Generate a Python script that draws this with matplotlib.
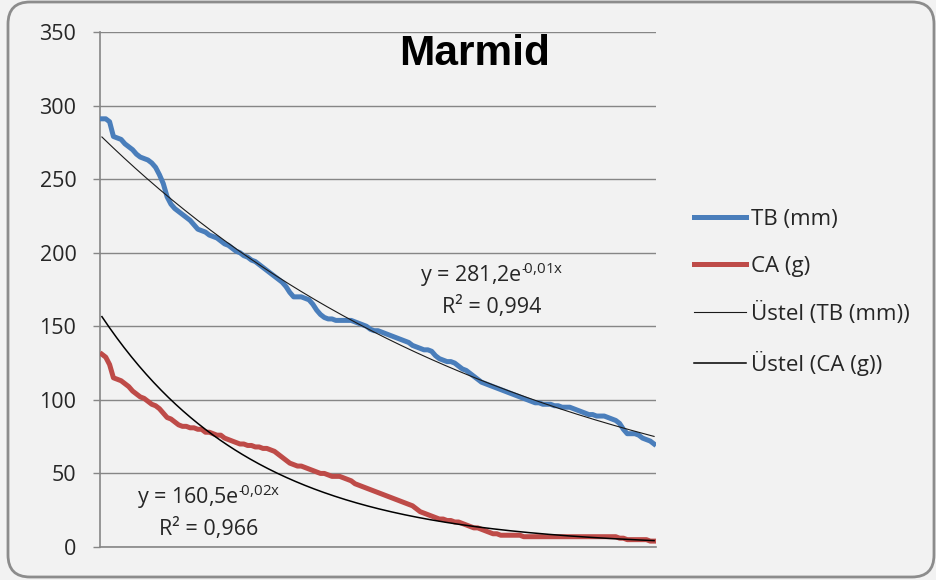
import numpy as np
import matplotlib.pyplot as plt
from matplotlib.patches import FancyBboxPatch

# values (one value per category, 145 categories)
tb_mm = [291, 291, 289, 279, 278, 277, 274, 272, 270, 267,
         265, 264, 263, 261, 258, 253, 247, 238, 233, 230,
         228, 226, 224, 222, 219, 216, 215, 214, 212, 211,
         210, 208, 206, 205, 203, 201, 200, 198, 197, 195,
         194, 192, 190, 188, 186, 184, 182, 180, 177, 173,
         170, 170, 170, 169, 168, 165, 161, 158, 156, 155,
         155, 154, 154, 154, 154, 154, 153, 152, 151, 150,
         148, 147, 147, 146, 145, 144, 143, 142, 141, 140,
         139, 137, 136, 135, 134, 134, 133, 130, 128, 127,
         126, 126, 125, 123, 121, 120, 118, 116, 114, 112,
         111, 110, 109, 108, 107, 106, 105, 104, 103, 102,
         101, 100, 99, 98, 98, 97, 97, 97, 96, 96,
         95, 95, 95, 94, 93, 92, 91, 90, 90, 89,
         89, 89, 88, 87, 86, 84, 80, 77, 77, 77,
         76, 74, 73, 72, 70]

ca_g = [131, 129, 124, 115, 114, 113, 111, 109, 106, 104,
        102, 101, 99, 97, 96, 94, 91, 88, 87, 85,
        83, 82, 82, 81, 81, 80, 80, 78, 78, 77,
        76, 76, 74, 73, 72, 71, 70, 70, 69, 69,
        68, 68, 67, 67, 66, 65, 63, 61, 59, 57,
        56, 55, 55, 54, 53, 52, 51, 50, 50, 49,
        48, 48, 48, 47, 46, 45, 43, 42, 41, 40,
        39, 38, 37, 36, 35, 34, 33, 32, 31, 30,
        29, 28, 26, 24, 23, 22, 21, 20, 19, 19,
        18, 18, 17, 17, 16, 15, 14, 13, 13, 12,
        11, 10, 9, 9, 8, 8, 8, 8, 8, 8,
        7, 7, 7, 7, 7, 7, 7, 7, 7, 7,
        7, 7, 7, 7, 7, 7, 7, 7, 7, 7,
        7, 7, 7, 7, 7, 6, 6, 5, 5, 5,
        5, 5, 5, 4, 4]

# exponential trendlines y = a * exp(-k x)
tb_a, tb_k = 281.2, 0.0091
ca_a, ca_k = 160.5, 0.0249

labels = ["TB (mm)", "CA (g)", "Üstel (TB (mm))", "Üstel (CA (g))"]
eq_tb = ["y = 281,2e$^{\u2010\\!0{,}01x}$", "R² = 0,994"]
eq_ca = ["y = 160,5e$^{\u2010\\!0{,}02x}$", "R² = 0,966"]

plt.rcParams['font.family'] = ['Open Sans', 'DejaVu Sans']
plt.rcParams['mathtext.fontset'] = 'custom'
plt.rcParams['mathtext.rm'] = 'Open Sans'
plt.rcParams['mathtext.it'] = 'Open Sans'
plt.rcParams['mathtext.default'] = 'regular'

bg = '#F2F2F2'
grid_c = '#868686'
W, H = 937, 580

fig = plt.figure(figsize=(W / 100, H / 100), dpi=100, facecolor=bg)
ax = fig.add_axes([100 / W, 1 - 547 / H, 556 / W, 515 / H])
ax.set_facecolor(bg)

x = np.arange(1, len(tb_mm) + 1)
ax.plot(x, tb_mm, color='#4A7EBB', lw=3.6, label=labels[0], zorder=3)
ax.plot(x, ca_g, color='#BE4B48', lw=3.6, label=labels[1], zorder=3)
xt = np.linspace(1, len(tb_mm), 300)
ax.plot(xt, tb_a * np.exp(-tb_k * xt), color='#1a1a1a', lw=0.8, label=labels[2], zorder=4)
ax.plot(xt, ca_a * np.exp(-ca_k * xt), color='black', lw=1.1, label=labels[3], zorder=4)

ax.set_xlim(0.5, len(tb_mm) + 0.5)
ax.set_ylim(0, 350)
ax.set_yticks(range(0, 351, 50))
ax.set_xticks([])
ax.grid(axis='y', color=grid_c, lw=1)
ax.set_axisbelow(True)
for s in ['top', 'right']:
    ax.spines[s].set_visible(False)
for s in ['left', 'bottom']:
    ax.spines[s].set_color(grid_c)
    ax.spines[s].set_linewidth(1.2)
ax.tick_params(axis='y', length=5, width=1, color=grid_c, pad=12,
               labelsize=15.5, labelcolor='#262626')

# trendline equations
for xp, yp, s in [(492, 282, eq_tb[0]), (492, 313, eq_tb[1]),
                  (209, 504, eq_ca[0]), (209, 535, eq_ca[1])]:
    fig.text(xp / W, 1 - yp / H, s, ha='center', va='baseline',
             fontsize=15.5, color='#262626')

fig.text(475 / W, 1 - 65 / H, "Marmid", ha='center', va='baseline', fontsize=30.5,
         fontweight='bold', family='Liberation Sans', color='black')

leg = ax.legend(loc='upper left', bbox_to_anchor=(694 / W, 1 - 209 / H),
                bbox_transform=fig.transFigure, frameon=False, fontsize=16,
                handlelength=2.35, handletextpad=0.2, labelspacing=1.15,
                borderpad=0, borderaxespad=0)
for t in leg.get_texts():
    t.set_color('#262626')

# rounded chart border
border = FancyBboxPatch((0.08, 0.03), 9.26, 5.75,
                        boxstyle="round,pad=0,rounding_size=0.22",
                        transform=fig.dpi_scale_trans, facecolor='none',
                        edgecolor='#8c8c8c', lw=2)
fig.add_artist(border)

fig.savefig('out.png', dpi=100, facecolor=bg)
